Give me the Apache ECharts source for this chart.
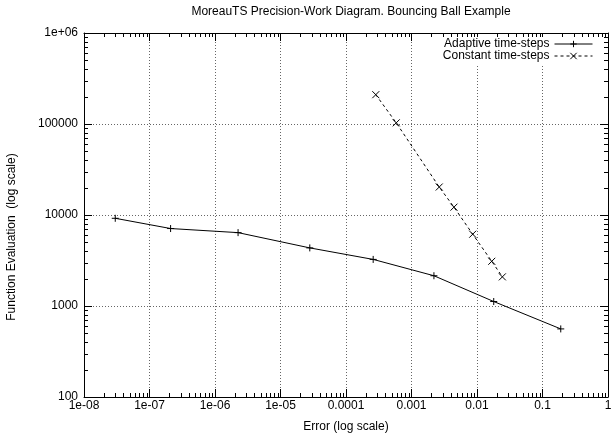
<!DOCTYPE html>
<html>
<head>
<meta charset="utf-8">
<script src="https://cdn.jsdelivr.net/npm/echarts@6/dist/echarts.min.js"></script>
<style>
  html, body { margin: 0; padding: 0; background: #fff; }
  #chart { width: 611px; height: 434px; }
</style>
</head>
<body>
<div id="chart"></div>
<script>
// data
const adaptiveErr = [3.0e-8, 2.1e-7, 2.25e-6, 2.8e-5, 2.6e-4, 2.2e-3, 0.018, 0.19];
const adaptiveEval = [9200, 7100, 6400, 4350, 3250, 2150, 1120, 560];
const constantErr = [2.85e-4, 5.85e-4, 2.65e-3, 4.45e-3, 8.6e-3, 0.0168, 0.0244];
const constantEval = [210000, 103000, 20300, 12200, 6150, 3100, 2090];

const xTickVals = [1e-8, 1e-7, 1e-6, 1e-5, 1e-4, 1e-3, 1e-2, 1e-1, 1];
const xTickLabels = ['1e-08', '1e-07', '1e-06', '1e-05', '0.0001', '0.001', '0.01', '0.1', '1'];
const yTickVals = [100, 1000, 10000, 100000, 1000000];
const yTickLabels = ['100', '1000', '10000', '100000', '1e+06'];

function tickLabel(vals, labels) {
  return function (v) {
    for (let i = 0; i < vals.length; i++) {
      if (Math.abs(Math.log10(v) - Math.log10(vals[i])) < 1e-6) return labels[i];
    }
    return '';
  };
}

// minor ticks at 2..9 inside each decade (gnuplot style)
function minorsOf(majors) {
  const out = [];
  for (let i = 0; i < majors.length - 1; i++) {
    for (let k = 2; k <= 9; k++) out.push(majors[i] * k);
  }
  return out;
}
const xMin = xTickVals[0], xMax = xTickVals[xTickVals.length - 1];
const yMin = yTickVals[0], yMax = yTickVals[yTickVals.length - 1];

const font = 'Liberation Sans, Arial, Helvetica, sans-serif';
const plusPath = 'path://M0,4L8,4M4,0L4,8';
const crossPath = 'path://M0,0L8,8M8,0L0,8';
const MINOR = 4;

function logAxis(extra) {
  return Object.assign({
    type: 'log',
    logBase: 10,
    axisLine: { show: true, onZero: false, lineStyle: { color: '#000', width: 1 } },
    axisTick: { show: true, inside: true, length: 8, lineStyle: { color: '#000', width: 1 } },
    splitLine: { show: false },
    axisLabel: { show: false }
  }, extra);
}

// snap to the pixel grid so the 1px ticks come out crisp
function snap(v) { return Math.round(v) + 0.5; }

function tickLine(x1, y1, x2, y2) {
  return { type: 'line', shape: { x1: x1, y1: y1, x2: x2, y2: y2 },
    style: { stroke: '#000', lineWidth: 1 } };
}

const chart = echarts.init(document.getElementById('chart'), null, { renderer: 'canvas' });

chart.setOption({
  animation: false,
  backgroundColor: '#fff',
  textStyle: { fontFamily: font, color: '#000' },
  title: {
    text: 'MoreauTS Precision-Work Diagram. Bouncing Ball Example',
    left: 346,
    top: 1,
    textAlign: 'center',
    textStyle: { fontSize: 12, fontWeight: 'normal', color: '#000', fontFamily: font }
  },
  legend: {
    orient: 'vertical',
    right: 18,
    top: 37,
    align: 'right',
    itemWidth: 38,
    itemHeight: 8,
    itemGap: 0,
    backgroundColor: '#fff',
    padding: [1, 0, 3, 4],
    lineStyle: { width: 1 },
    itemStyle: { borderWidth: 1 },
    textStyle: { fontSize: 12, lineHeight: 12, color: '#000', fontFamily: font },
    data: ['Adaptive time-steps', 'Constant time-steps']
  },
  grid: { left: 84, right: 3, top: 33, bottom: 37, containLabel: false, outerBoundsMode: 'none' },
  xAxis: [
    logAxis({
      min: xMin, max: xMax, interval: 1, position: 'bottom',
      name: 'Error (log scale)', nameLocation: 'middle', nameGap: 24,
      nameTextStyle: { fontSize: 12, color: '#000', fontFamily: font },
      axisLabel: { show: true, fontSize: 12, color: '#000', margin: 3, fontFamily: font,
        formatter: tickLabel(xTickVals, xTickLabels) },
      splitLine: { show: true, lineStyle: { color: '#666', type: [1, 2], width: 1 } }
    }),
    logAxis({ min: xMin, max: xMax, interval: 1, position: 'top' })
  ],
  yAxis: [
    logAxis({
      min: yMin, max: yMax, interval: 1, position: 'left',
      axisLabel: { show: true, fontSize: 12, color: '#000', margin: 6, fontFamily: font,
        formatter: tickLabel(yTickVals, yTickLabels) },
      splitLine: { show: true, lineStyle: { color: '#666', type: [1, 2], width: 1 } }
    }),
    logAxis({ min: yMin, max: yMax, interval: 1, position: 'right' })
  ],
  graphic: [{
    type: 'text',
    x: 12, y: 237,
    rotation: Math.PI / 2,
    style: {
      text: 'Function Evaluation  (log scale)',
      font: '12px ' + font,
      fill: '#000',
      align: 'center',
      verticalAlign: 'middle'
    }
  }],
  series: [
    {
      type: 'custom',
      silent: true,
      clip: false,
      z: 5,
      data: minorsOf(xTickVals).map(v => [v, yMin]),
      renderItem: function (params, api) {
        const v = api.value(0);
        const b = api.coord([v, yMin]);
        const t = api.coord([v, yMax]);
        const x = snap(b[0]);
        return { type: 'group', children: [
          tickLine(x, Math.round(b[1]), x, Math.round(b[1]) - MINOR),
          tickLine(x, Math.round(t[1]), x, Math.round(t[1]) + MINOR)
        ] };
      }
    },
    {
      type: 'custom',
      silent: true,
      clip: false,
      z: 5,
      data: minorsOf(yTickVals).map(v => [xMin, v]),
      renderItem: function (params, api) {
        const v = api.value(1);
        const l = api.coord([xMin, v]);
        const r = api.coord([xMax, v]);
        const y = snap(l[1]);
        return { type: 'group', children: [
          tickLine(Math.round(l[0]), y, Math.round(l[0]) + MINOR, y),
          tickLine(Math.round(r[0]), y, Math.round(r[0]) - MINOR, y)
        ] };
      }
    },
    {
      name: 'Adaptive time-steps',
      type: 'line',
      data: adaptiveErr.map((e, i) => [e, adaptiveEval[i]]),
      symbol: plusPath,
      symbolSize: 7,
      showSymbol: true,
      lineStyle: { color: '#000', width: 1 },
      itemStyle: { color: 'rgba(0,0,0,0)', borderColor: '#000', borderWidth: 1 }
    },
    {
      name: 'Constant time-steps',
      type: 'line',
      data: constantErr.map((e, i) => [e, constantEval[i]]),
      symbol: crossPath,
      symbolSize: 7,
      showSymbol: true,
      lineStyle: { color: '#000', width: 1, type: [3, 3] },
      itemStyle: { color: 'rgba(0,0,0,0)', borderColor: '#000', borderWidth: 1 }
    }
  ]
});
</script>
</body>
</html>
